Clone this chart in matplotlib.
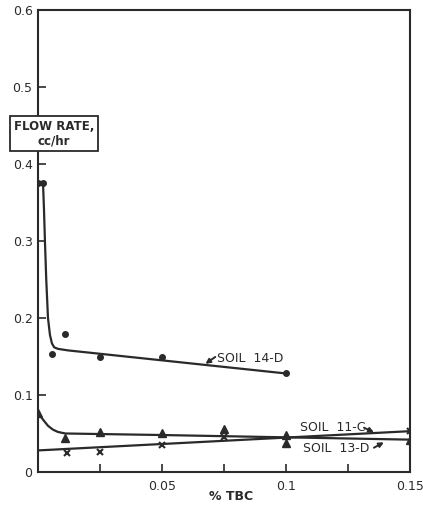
import matplotlib
matplotlib.use("Agg")
import matplotlib.pyplot as plt

# measured points
tbc_14d = [0.0, 0.002, 0.0055, 0.011, 0.025, 0.05, 0.1]
flow_14d = [0.375, 0.375, 0.153, 0.179, 0.150, 0.149, 0.128]

tbc_11c = [0.0, 0.011, 0.025, 0.05, 0.075, 0.1, 0.1, 0.15]
flow_11c = [0.077, 0.044, 0.052, 0.051, 0.056, 0.038, 0.048, 0.042]

tbc_13d = [0.0115, 0.025, 0.05, 0.075, 0.15]
flow_13d = [0.025, 0.026, 0.035, 0.045, 0.053]

# hand-drawn fit curves
fit_14d_x = [0.002, 0.0024, 0.0028, 0.0033, 0.004, 0.0048, 0.0056, 0.0065, 0.008, 0.012, 0.1]
fit_14d_y = [0.375, 0.34, 0.297, 0.25, 0.2, 0.178, 0.167, 0.162, 0.16, 0.158, 0.128]

fit_11c_x = [0.0, 0.002, 0.004, 0.006, 0.008, 0.011, 0.05, 0.1, 0.15]
fit_11c_y = [0.077, 0.068, 0.06, 0.055, 0.052, 0.05, 0.048, 0.045, 0.042]

fit_13d_x = [0.0, 0.15]
fit_13d_y = [0.028, 0.053]

ink = "#2a2a2a"

fig = plt.figure(figsize=(4.23, 5.13), dpi=100)
ax = fig.add_axes([0.09, 0.08, 0.879, 0.9])

ax.plot(fit_14d_x, fit_14d_y, color=ink, lw=1.6)
ax.plot(fit_11c_x, fit_11c_y, color=ink, lw=1.6)
ax.plot(fit_13d_x, fit_13d_y, color=ink, lw=1.6)

ax.plot(tbc_14d, flow_14d, "o", color=ink, ms=4, ls="none")
ax.plot(tbc_11c, flow_11c, "^", color=ink, ms=5.5, ls="none")
ax.plot(tbc_13d, flow_13d, "x", color=ink, ms=4.5, mew=1.5, ls="none")

ax.set_xlim(0, 0.15)
ax.set_ylim(0, 0.6)
ax.set_xticks([0.025, 0.05, 0.075, 0.1, 0.125, 0.15])
ax.set_xticklabels(["", "0.05", "", "0.1", "", "0.15"])
ax.set_yticks([0, 0.1, 0.2, 0.3, 0.4, 0.5, 0.6])
ax.set_yticklabels(["0", "0.1", "0.2", "0.3", "0.4", "0.5", "0.6"])
ax.tick_params(direction="in", length=6, width=1.2, color=ink, labelsize=9,
               labelcolor=ink, pad=4)
ax.tick_params(axis="x", pad=6)
for s in ax.spines.values():
    s.set_linewidth(1.5)
    s.set_color(ink)

ax.text(0.069, -0.024, "% TBC", fontsize=9, color=ink,
        ha="left", va="top", fontweight="bold")

ax.text(0.0065, 0.4395, "FLOW RATE,\ncc/hr", fontsize=8.5, fontweight="bold",
        color=ink, ha="center", va="center", linespacing=1.15,
        bbox=dict(boxstyle="square,pad=0.3", fc="white", ec=ink, lw=1.3))

# curve labels
arrow = dict(arrowstyle="-|>", color=ink, lw=1.4, mutation_scale=7,
             shrinkA=0, shrinkB=0)
ax.text(0.072, 0.148, "SOIL  14-D", fontsize=9, color=ink, ha="left", va="center")
ax.annotate("", xy=(0.0675, 0.1405), xytext=(0.0715, 0.1495), arrowprops=arrow)
ax.text(0.1055, 0.058, "SOIL  11-C", fontsize=9, color=ink, ha="left", va="center")
ax.annotate("", xy=(0.1355, 0.0515), xytext=(0.1315, 0.0575), arrowprops=arrow)
ax.text(0.107, 0.031, "SOIL  13-D", fontsize=9, color=ink, ha="left", va="center")
ax.annotate("", xy=(0.1395, 0.0385), xytext=(0.1355, 0.0315), arrowprops=arrow)

fig.savefig("out.png", dpi=100)
